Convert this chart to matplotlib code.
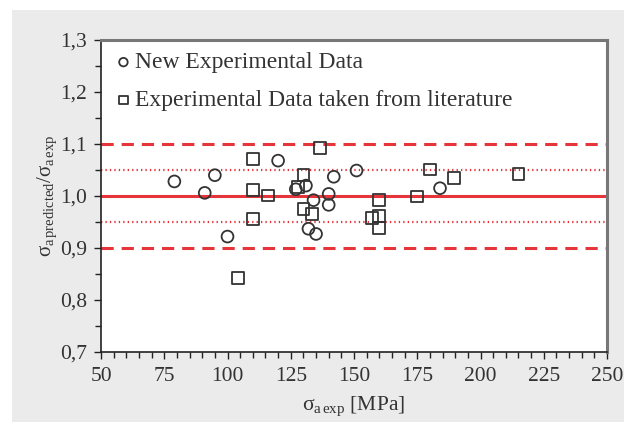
import matplotlib.pyplot as plt
from matplotlib.patches import Rectangle
from matplotlib.ticker import MultipleLocator, FuncFormatter

# new experimental data (circles)
new_x = [79, 91, 95, 100, 120, 127, 131, 134, 132, 135, 140, 140, 142, 151, 184]
new_y = [1.028, 1.006, 1.040, 0.922, 1.068, 1.013, 1.020, 0.992, 0.937, 0.927, 1.004, 0.983, 1.037, 1.049, 1.015]

# experimental data taken from literature (squares)
lit_x = [104, 110, 110, 110, 116, 128, 130, 130, 133.5, 136.5, 157, 160, 160, 160, 175, 180, 189.5, 215]
lit_y = [0.842, 1.071, 1.012, 0.956, 1.001, 1.017, 1.041, 0.975, 0.966, 1.092, 0.958, 0.992, 0.962, 0.938, 0.999, 1.051, 1.035, 1.043]

# reference lines
solid_y = [1.0]
dashed_y = [0.9, 1.1]
dotted_y = [0.95, 1.05]

plt.rcParams['font.family'] = ['Liberation Serif', 'DejaVu Serif']
plt.rcParams['mathtext.fontset'] = 'custom'
plt.rcParams['mathtext.rm'] = 'Liberation Serif'
plt.rcParams['mathtext.it'] = 'Liberation Serif'

fig = plt.figure(figsize=(6.24, 4.26), dpi=100)
fig.patch.set_facecolor('white')
fig.patches.append(Rectangle((12/624, 4/426), 612/624, 412/426, transform=fig.transFigure,
                             facecolor='#ebebeb', edgecolor='none', zorder=-10))
ax = fig.add_axes([101/624, 1-352/426, 506/624, 312/426])
ax.set_facecolor('white')

red = '#e5353a'
for y in solid_y:
    ax.axhline(y, color=red, lw=2.2, zorder=1)
for y in dashed_y:
    ax.axhline(y, color=red, lw=2.2, ls=(0, (4, 2.6)), zorder=1)
for y in dotted_y:
    ax.axhline(y, color=red, lw=1.6, ls=(0, (0.6, 1.4)), zorder=1)

ax.scatter(new_x, new_y, marker='o', s=72, facecolors='none', edgecolors='#333333',
           linewidths=1.3, label='New Experimental Data', zorder=3)
ax.scatter(lit_x, lit_y, marker='s', s=72, facecolors='none', edgecolors='#333333',
           linewidths=1.3, label='Experimental Data taken from literature', zorder=3)

ax.set_xlim(50, 250)
ax.set_ylim(0.7, 1.3)
ax.xaxis.set_major_locator(MultipleLocator(25))
ax.xaxis.set_minor_locator(MultipleLocator(5))
ax.yaxis.set_major_locator(MultipleLocator(0.1))
ax.yaxis.set_minor_locator(MultipleLocator(0.05))
ax.yaxis.set_major_formatter(FuncFormatter(lambda v, p: ('%.1f' % v).replace('.', ',')))
ax.tick_params(which='both', direction='out', color='#222222', labelsize=15.5, labelcolor='#333333')
ax.tick_params(which='major', length=5, width=1)
ax.tick_params(which='minor', length=4, width=1)
ax.tick_params(axis='x', pad=6)
ax.tick_params(axis='y', pad=5)

for s in ['left', 'bottom']:
    ax.spines[s].set_color('#222222')
    ax.spines[s].set_linewidth(1.2)
for s in ['top', 'right']:
    ax.spines[s].set_color('#777777')
    ax.spines[s].set_linewidth(2.2)

ax.set_xlabel(r'$\sigma_{\mathrm{a\,exp}}$ [MPa]', fontsize=15.5, color='#333333', labelpad=6)
ax.set_ylabel(r'$\sigma_{\mathrm{a\,predicted}}/\sigma_{\mathrm{a\,exp}}$', fontsize=15, color='#333333', labelpad=1)

ax.legend(loc='upper left', frameon=False, fontsize=17, handletextpad=0.05, handlelength=0.9,
          markerscale=0.72, borderaxespad=0.1, labelspacing=0.7, labelcolor='#333333')

fig.savefig('out.png', dpi=100)
